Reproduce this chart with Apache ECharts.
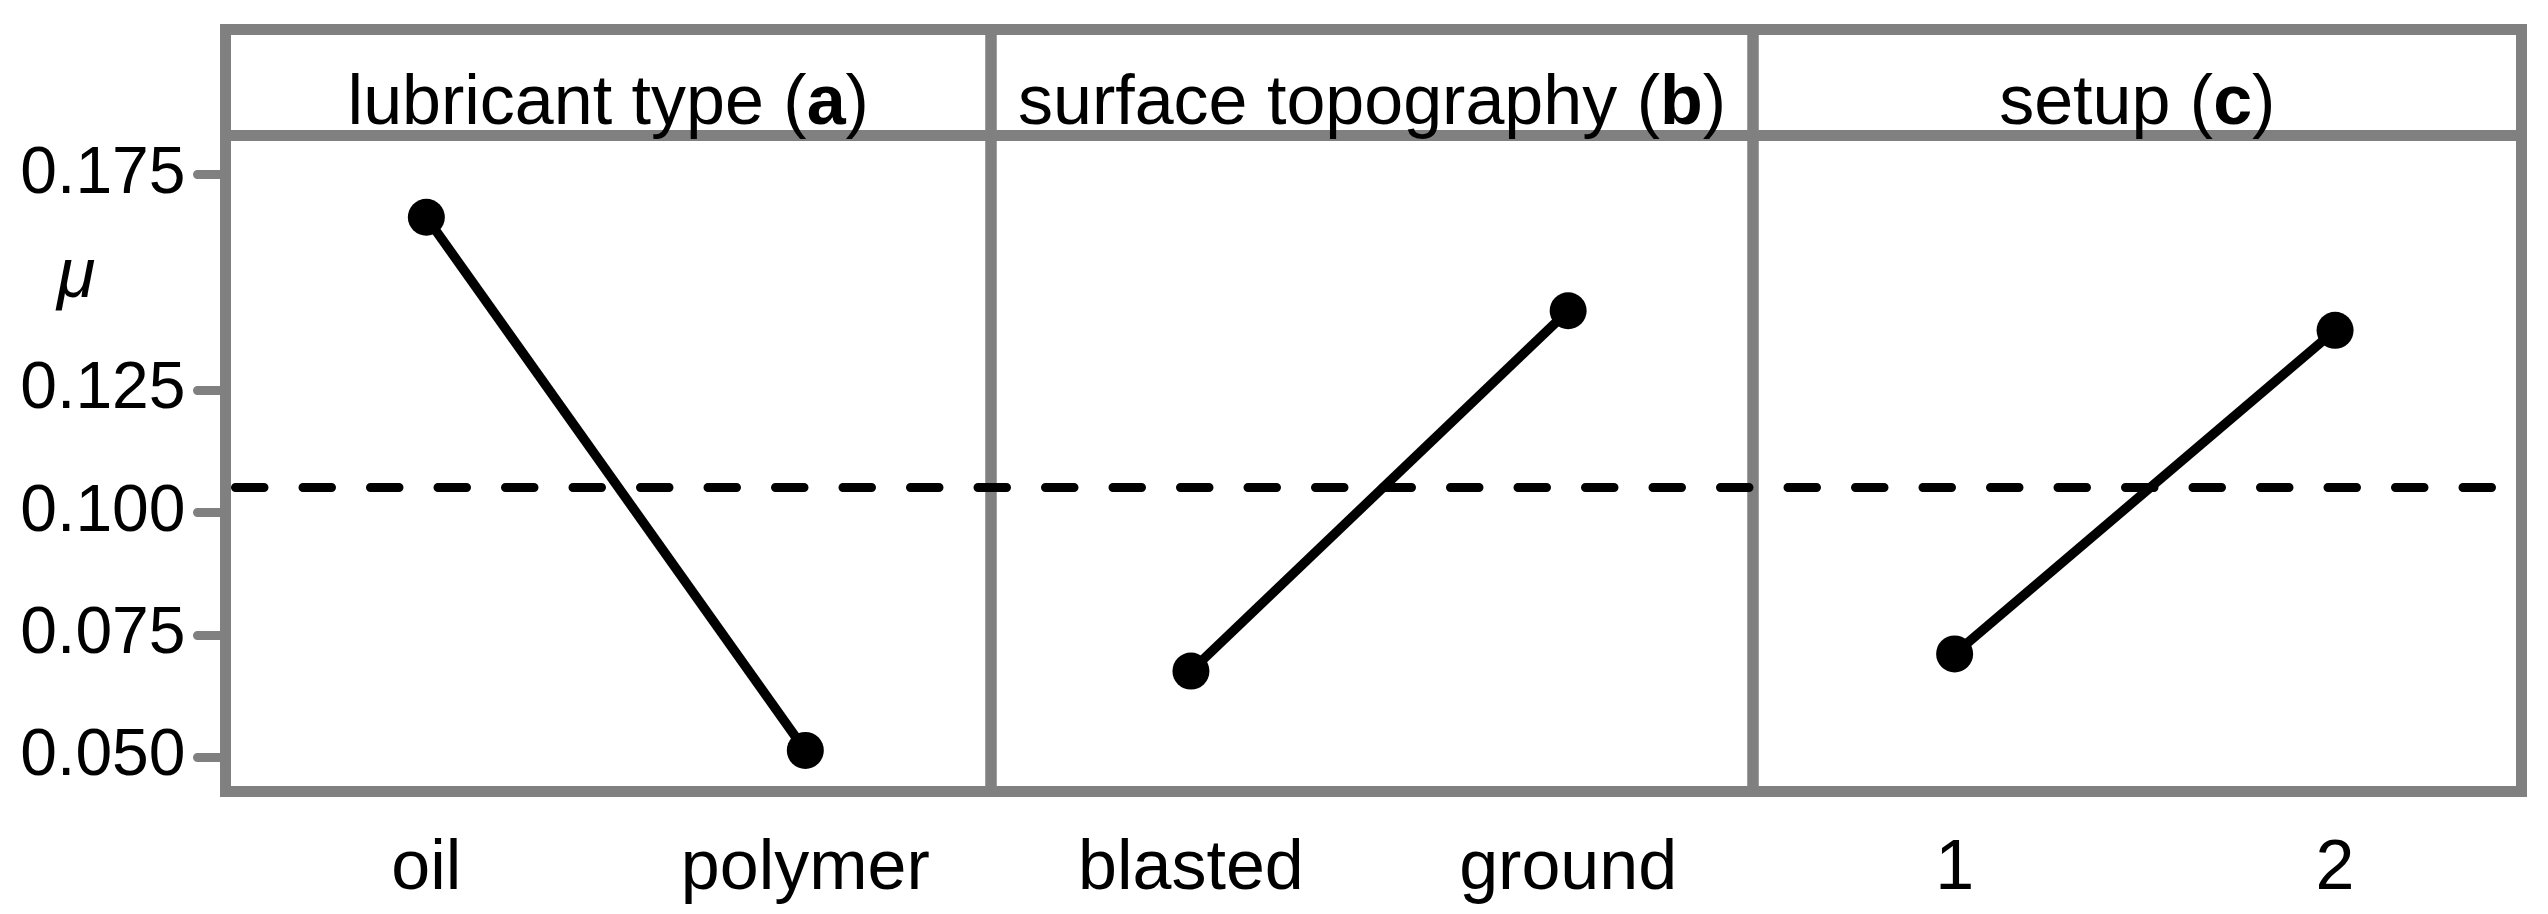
<!DOCTYPE html>
<html>
<head>
<meta charset="utf-8">
<script src="https://cdn.jsdelivr.net/npm/echarts@6/dist/echarts.min.js"></script>
<style>
html,body{margin:0;padding:0;background:#ffffff;}
#chart{width:2548px;height:914px;}
</style>
</head>
<body>
<div id="chart"></div>
<script>
// ---- data ----
const panelTitles = ['lubricant type', 'surface topography', 'setup'];
const panelLetters = ['a', 'b', 'c'];
const categoriesA = ['oil', 'polymer'];
const categoriesB = ['blasted', 'ground'];
const categoriesC = ['1', '2'];
const valuesA = [0.1603, 0.0514];
const valuesB = [0.0676, 0.1412];
const valuesC = [0.0711, 0.1372];
const grandMean = 0.1051;
const yTickValues = [0.050, 0.075, 0.100, 0.125, 0.169];
const yTickLabels = ['0.050', '0.075', '0.100', '0.125', '0.175'];
const yAxisSymbol = 'μ';

// ---- layout ----
const W = 2548, H = 914;
const FONT = "'Liberation Sans', Arial, sans-serif";
const FS = 70;
const GRAY = '#808080';
const EDGES = [225.5, 991, 1753, 2521.5];
const TOP = 29.5, HEAD_B = 135.5, BOT = 791.5;
const Y_MIN = 0.043, Y_MAX = 0.177;
const X_MIN = -0.53, X_MAX = 1.49;

const cats = [categoriesA, categoriesB, categoriesC];
const vals = [valuesA, valuesB, valuesC];

const grid = [], xAxis = [], yAxis = [], series = [], title = [];

function nearestLabel(v) {
  let best = 0, bd = Infinity;
  yTickValues.forEach((t, i) => { const d = Math.abs(t - v); if (d < bd) { bd = d; best = i; } });
  return yTickLabels[best];
}

for (let i = 0; i < 3; i++) {
  const left = EDGES[i], width = EDGES[i + 1] - EDGES[i];
  // plot grid
  grid.push({left: left, width: width, top: HEAD_B, bottom: H - BOT, show: true,
    borderColor: GRAY, borderWidth: 11, backgroundColor: 'rgba(0,0,0,0)'});
  xAxis.push({
    gridIndex: i, type: 'value', min: X_MIN, max: X_MAX, position: 'bottom',
    axisLine: {show: false, onZero: false}, axisTick: {show: false}, splitLine: {show: false},
    axisLabel: {
      customValues: [0, 1],
      formatter: (v) => cats[i][Math.round(v)],
      fontSize: FS, fontFamily: FONT, color: '#000', margin: 43
    }
  });
  yAxis.push({
    gridIndex: i, type: 'value', min: Y_MIN, max: Y_MAX, position: 'left',
    show: i === 0,
    axisLine: {show: false, onZero: false}, splitLine: {show: false},
    axisTick: {show: i === 0, inside: false, customValues: yTickValues, length: 28,
      lineStyle: {color: GRAY, width: 9, cap: 'round'}},
    axisLabel: {show: i === 0, customValues: yTickValues, formatter: nearestLabel,
      fontSize: 66, fontFamily: FONT, color: '#000', margin: 40}
  });
  series.push({
    type: 'line', xAxisIndex: i, yAxisIndex: i,
    data: vals[i].map((v, j) => [j, v]),
    symbol: 'circle', symbolSize: 37,
    itemStyle: {color: '#000'},
    lineStyle: {color: '#000', width: 9.5},
    z: 5, silent: true, animation: false
  });
  title.push({
    text: '{n|' + panelTitles[i] + ' (}{b|' + panelLetters[i] + '}{n|)}',
    left: left + width / 2, top: 70, textAlign: 'center', padding: 0,
    textStyle: {
      rich: {
        n: {fontSize: FS, fontFamily: FONT, color: '#000', fontWeight: 'normal', lineHeight: 70},
        b: {fontSize: FS, fontFamily: FONT, color: '#000', fontWeight: 'bold', lineHeight: 70}
      }
    }
  });
}
// header strips
for (let i = 0; i < 3; i++) {
  const left = EDGES[i], width = EDGES[i + 1] - EDGES[i];
  grid.push({left: left, width: width, top: TOP, height: HEAD_B - TOP, show: true,
    borderColor: GRAY, borderWidth: 11, backgroundColor: 'rgba(0,0,0,0)'});
  xAxis.push({gridIndex: 3 + i, type: 'value', show: false, min: 0, max: 1});
  yAxis.push({gridIndex: 3 + i, type: 'value', show: false, min: 0, max: 1});
}
// grand mean spanning all panels
grid.push({left: EDGES[0], width: EDGES[3] - EDGES[0], top: HEAD_B, bottom: H - BOT, show: false});
xAxis.push({gridIndex: 6, type: 'value', show: false, min: 0, max: 1});
yAxis.push({gridIndex: 6, type: 'value', show: false, min: Y_MIN, max: Y_MAX});
series.push({
  type: 'line', xAxisIndex: 6, yAxisIndex: 6,
  data: [[0, grandMean], [1, grandMean]],
  symbol: 'none',
  lineStyle: {color: '#000', width: 9, type: [28.5, 39], cap: 'round', dashOffset: -10},
  z: 6, silent: true, animation: false
});

title.push({
  text: yAxisSymbol, left: 57, top: 243, padding: 0,
  textStyle: {fontSize: FS, fontFamily: FONT, fontStyle: 'italic', fontWeight: 'normal', color: '#000', lineHeight: 70}
});

const chart = echarts.init(document.getElementById('chart'), null, {renderer: 'canvas'});
chart.setOption({
  animation: false,
  backgroundColor: '#ffffff',
  title: title,
  grid: grid,
  xAxis: xAxis,
  yAxis: yAxis,
  series: series
});
</script>
</body>
</html>
